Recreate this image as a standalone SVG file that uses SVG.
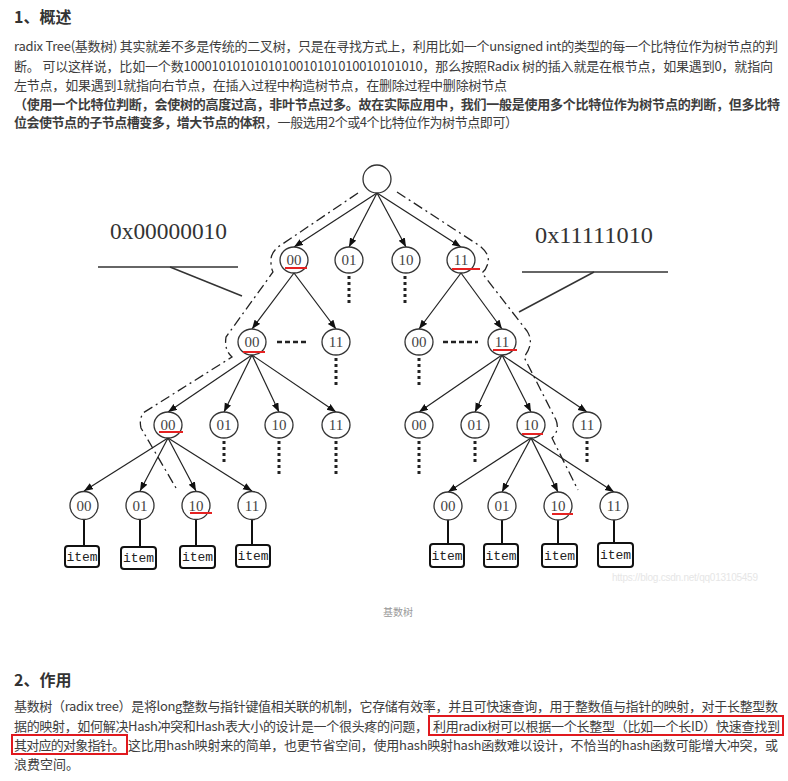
<svg xmlns="http://www.w3.org/2000/svg" width="788" height="781" viewBox="0 0 788 781">
<style>
.h{font-family:"Noto Sans CJK SC","Liberation Sans",sans-serif;font-size:16px;font-weight:bold;fill:#333}
.t{font-family:"Noto Sans CJK SC","Liberation Sans",sans-serif;font-size:13px;fill:#3d3d3d}
.b{font-weight:bold}
.n ellipse{fill:#fff;stroke:#333;stroke-width:1.3}
.n text{font-family:"Liberation Serif",serif;font-size:15px;fill:#444;text-anchor:middle}
.it rect{fill:#fff;stroke:#111;stroke-width:2}
.it text{font-family:"Liberation Mono",monospace;font-size:13px;fill:#222;text-anchor:middle}
.e{stroke:#222;stroke-width:1.2;fill:none}
.dot{stroke:#222;stroke-width:3;stroke-dasharray:3 3;fill:none}
.dsh{stroke:#222;stroke-width:2.5;stroke-dasharray:5 3;fill:none}
.stem{stroke:#111;stroke-width:2}
.red{stroke:#e52222;stroke-width:2}
.dd{stroke:#222;stroke-width:1.3;fill:none;stroke-dasharray:10 4 2 4}
.lbl{font-family:"Liberation Serif",serif;font-size:23px;fill:#333}
.box{fill:none;stroke:#e0191e;stroke-width:2}
</style>
<defs>
<marker id="ah" markerUnits="userSpaceOnUse" markerWidth="10" markerHeight="8" refX="9" refY="3.5" orient="auto">
<path d="M0,0 L9,3.5 L0,7 z" fill="#111"/>
</marker>
</defs>

<text class="h" x="14" y="23">1、概述</text>
<text class="t" x="14" y="51" textLength="764" lengthAdjust="spacing">radix Tree(基数树) 其实就差不多是传统的二叉树，只是在寻找方式上，利用比如一个unsigned int的类型的每一个比特位作为树节点的判</text>
<text class="t" x="14" y="71" textLength="759" lengthAdjust="spacing">断。 可以这样说，比如一个数1000101010101010010101010010101010，那么按照Radix 树的插入就是在根节点，如果遇到0，就指向</text>
<text class="t" x="14" y="90" textLength="493" lengthAdjust="spacing">左节点，如果遇到1就指向右节点，在插入过程中构造树节点，在删除过程中删除树节点</text>
<text class="t b" x="14" y="109" textLength="766" lengthAdjust="spacing">（使用一个比特位判断，会使树的高度过高，非叶节点过多。故在实际应用中，我们一般是使用多个比特位作为树节点的判断，但多比特</text>
<text class="t b" x="14" y="127" textLength="251" lengthAdjust="spacing">位会使节点的子节点槽变多，增大节点的体积</text>
<text class="t" x="265" y="127" textLength="253" lengthAdjust="spacing">，一般选用2个或4个比特位作为树节点即可）</text>

<g id="labels">
<text class="lbl" x="110" y="239" textLength="117" lengthAdjust="spacingAndGlyphs">0x00000010</text>
<line x1="98" y1="267" x2="238" y2="267" stroke="#333" stroke-width="1.5"/>
<line x1="170" y1="267" x2="242" y2="296" stroke="#333" stroke-width="1.5"/>
<text class="lbl" x="535" y="243" textLength="118" lengthAdjust="spacingAndGlyphs">0x11111010</text>
<line x1="522" y1="272" x2="668" y2="272" stroke="#333" stroke-width="1.5"/>
<line x1="594" y1="272" x2="519" y2="312" stroke="#333" stroke-width="1.5"/>
</g>

<g id="connectors">
<g marker-end="url(#ah)" class="e">
<line x1="377" y1="193" x2="294" y2="247"/>
<line x1="377" y1="193" x2="349" y2="247"/>
<line x1="377" y1="193" x2="406" y2="247"/>
<line x1="377" y1="193" x2="461" y2="247"/>
<line x1="294" y1="273" x2="252" y2="329"/>
<line x1="294" y1="273" x2="336" y2="329"/>
<line x1="461" y1="273" x2="419" y2="329"/>
<line x1="461" y1="273" x2="502" y2="329"/>
<line x1="252" y1="355" x2="168" y2="412"/>
<line x1="252" y1="355" x2="224" y2="412"/>
<line x1="252" y1="355" x2="279" y2="412"/>
<line x1="252" y1="355" x2="336" y2="412"/>
<line x1="502" y1="355" x2="419" y2="412"/>
<line x1="502" y1="355" x2="475" y2="412"/>
<line x1="502" y1="355" x2="531" y2="412"/>
<line x1="502" y1="355" x2="587" y2="412"/>
<line x1="168" y1="438" x2="84" y2="491"/>
<line x1="168" y1="438" x2="140" y2="491"/>
<line x1="168" y1="438" x2="196" y2="491"/>
<line x1="168" y1="438" x2="252" y2="491"/>
<line x1="531" y1="438" x2="448" y2="492"/>
<line x1="531" y1="438" x2="502" y2="492"/>
<line x1="531" y1="438" x2="558" y2="492"/>
<line x1="531" y1="438" x2="614" y2="492"/>
</g>
<line class="dot" x1="349" y1="276" x2="349" y2="306"/>
<line class="dot" x1="405" y1="276" x2="405" y2="306"/>
<line class="dot" x1="336" y1="358" x2="336" y2="388"/>
<line class="dot" x1="419" y1="358" x2="419" y2="388"/>
<line class="dsh" x1="277" y1="342" x2="309" y2="342"/>
<line class="dsh" x1="443" y1="342" x2="478" y2="342"/>
<line class="dot" x1="224" y1="441" x2="224" y2="462"/>
<line class="dot" x1="279" y1="441" x2="279" y2="476"/>
<line class="dot" x1="336" y1="441" x2="336" y2="477"/>
<line class="dot" x1="419" y1="441" x2="419" y2="476"/>
<line class="dot" x1="475" y1="441" x2="475" y2="462"/>
<line class="dot" x1="587" y1="441" x2="587" y2="462"/>
<line class="stem" x1="84" y1="520" x2="84" y2="546"/>
<line class="stem" x1="140" y1="520" x2="140" y2="547"/>
<line class="stem" x1="196" y1="520" x2="196" y2="546"/>
<line class="stem" x1="252" y1="520" x2="252" y2="545"/>
<line class="stem" x1="448" y1="520" x2="448" y2="544"/>
<line class="stem" x1="502" y1="520" x2="502" y2="544"/>
<line class="stem" x1="558" y1="520" x2="558" y2="543"/>
<line class="stem" x1="614" y1="520" x2="614" y2="543"/>
<path class="dd" d="M358,193 L281,245 Q270,252 271,262 Q271,268 273,272 L226,337 Q224,350 232,357 L143,413 Q139,420 141,428 L176,488"/>
<path class="dd" d="M397,192 L480,246 Q490,254 488,263 Q486,270 482,273 L527,331 Q535,343 524,357 L556,420 Q560,430 552,438 L578,490"/>
</g>

<g id="root" class="n"><ellipse cx="377" cy="179" rx="14" ry="14"/></g>
<g id="l1-00" class="n"><ellipse cx="294" cy="260" rx="14" ry="13"/><text x="294" y="265">00</text></g>
<g id="l1-01" class="n"><ellipse cx="349" cy="260" rx="14" ry="13"/><text x="349" y="265">01</text></g>
<g id="l1-10" class="n"><ellipse cx="406" cy="260" rx="14" ry="13"/><text x="406" y="265">10</text></g>
<g id="l1-11" class="n"><ellipse cx="461" cy="260" rx="14" ry="13"/><text x="461" y="265">11</text></g>
<g id="l2a-00" class="n"><ellipse cx="252" cy="342" rx="14" ry="13"/><text x="252" y="347">00</text></g>
<g id="l2a-11" class="n"><ellipse cx="336" cy="342" rx="14" ry="13"/><text x="336" y="347">11</text></g>
<g id="l2b-00" class="n"><ellipse cx="419" cy="342" rx="14" ry="13"/><text x="419" y="347">00</text></g>
<g id="l2b-11" class="n"><ellipse cx="502" cy="342" rx="14" ry="13"/><text x="502" y="347">11</text></g>
<g id="l3a-00" class="n"><ellipse cx="168" cy="425" rx="14" ry="13"/><text x="168" y="430">00</text></g>
<g id="l3a-01" class="n"><ellipse cx="224" cy="425" rx="14" ry="13"/><text x="224" y="430">01</text></g>
<g id="l3a-10" class="n"><ellipse cx="279" cy="425" rx="14" ry="13"/><text x="279" y="430">10</text></g>
<g id="l3a-11" class="n"><ellipse cx="336" cy="425" rx="14" ry="13"/><text x="336" y="430">11</text></g>
<g id="l3b-00" class="n"><ellipse cx="419" cy="425" rx="14" ry="13"/><text x="419" y="430">00</text></g>
<g id="l3b-01" class="n"><ellipse cx="475" cy="425" rx="14" ry="13"/><text x="475" y="430">01</text></g>
<g id="l3b-10" class="n"><ellipse cx="531" cy="425" rx="14" ry="13"/><text x="531" y="430">10</text></g>
<g id="l3b-11" class="n"><ellipse cx="587" cy="425" rx="14" ry="13"/><text x="587" y="430">11</text></g>
<g id="l4a-00" class="n"><ellipse cx="84" cy="505.5" rx="14" ry="14"/><text x="84" y="511">00</text></g>
<g id="l4a-01" class="n"><ellipse cx="140" cy="505.5" rx="14" ry="14"/><text x="140" y="511">01</text></g>
<g id="l4a-10" class="n"><ellipse cx="196" cy="505.5" rx="14" ry="14"/><text x="196" y="511">10</text></g>
<g id="l4a-11" class="n"><ellipse cx="252" cy="505.5" rx="14" ry="14"/><text x="252" y="511">11</text></g>
<g id="l4b-00" class="n"><ellipse cx="448" cy="506" rx="14" ry="14"/><text x="448" y="511">00</text></g>
<g id="l4b-01" class="n"><ellipse cx="502" cy="506" rx="14" ry="14"/><text x="502" y="511">01</text></g>
<g id="l4b-10" class="n"><ellipse cx="558" cy="506" rx="14" ry="14"/><text x="558" y="511">10</text></g>
<g id="l4b-11" class="n"><ellipse cx="614" cy="506" rx="14" ry="14"/><text x="614" y="511">11</text></g>

<g id="items">
<g id="item1" class="it"><rect x="65" y="546" width="34" height="21" rx="3"/><text x="82" y="561">item</text></g>
<g id="item2" class="it"><rect x="121" y="547" width="35" height="22" rx="3"/><text x="138.5" y="562">item</text></g>
<g id="item3" class="it"><rect x="180" y="546" width="35" height="22" rx="3"/><text x="197.5" y="561">item</text></g>
<g id="item4" class="it"><rect x="236" y="545" width="34" height="22" rx="3"/><text x="253" y="560">item</text></g>
<g id="item5" class="it"><rect x="430" y="544" width="34" height="23" rx="3"/><text x="447" y="560">item</text></g>
<g id="item6" class="it"><rect x="484" y="544" width="34" height="23" rx="3"/><text x="501" y="560">item</text></g>
<g id="item7" class="it"><rect x="542" y="544" width="35" height="23" rx="3"/><text x="559.5" y="560">item</text></g>
<g id="item8" class="it"><rect x="598" y="543" width="35" height="24" rx="3"/><text x="615.5" y="559">item</text></g>
</g>

<g id="marks">
<line class="red" x1="285" y1="268" x2="307" y2="268"/>
<line class="red" x1="452" y1="269" x2="480" y2="269"/>
<line class="red" x1="243" y1="352" x2="265" y2="352"/>
<line class="red" x1="493" y1="350" x2="517" y2="350"/>
<line class="red" x1="159" y1="432" x2="183" y2="432"/>
<line class="red" x1="522" y1="434" x2="543" y2="434"/>
<line class="red" x1="190" y1="513" x2="212" y2="513"/>
<line class="red" x1="552" y1="514" x2="573" y2="514"/>
</g>

<text x="612" y="581" font-family="Liberation Sans,sans-serif" font-size="10" fill="#e6e6e6" textLength="146" lengthAdjust="spacing">https://blog.csdn.net/qq013105459</text>
<text x="398" y="616" font-family="Noto Sans CJK SC,sans-serif" font-size="10" fill="#999" text-anchor="middle">基数树</text>

<text class="h" x="14" y="686">2、作用</text>
<text class="t" x="14" y="711" textLength="764" lengthAdjust="spacing">基数树（radix tree）是将long整数与指针键值相关联的机制，它存储有效率，并且可快速查询，用于整数值与指针的映射，对于长整型数</text>
<text class="t" x="14" y="731" textLength="414" lengthAdjust="spacing">据的映射，如何解决Hash冲突和Hash表大小的设计是一个很头疼的问题，</text>
<text class="t" x="433" y="731" textLength="347" lengthAdjust="spacing">利用radix树可以根据一个长整型（比如一个长ID）快速查找到</text>
<text class="t" x="14" y="750" textLength="111" lengthAdjust="spacing">其对应的对象指针。</text>
<text class="t" x="128" y="750" textLength="650" lengthAdjust="spacing">这比用hash映射来的简单，也更节省空间，使用hash映射hash函数难以设计，不恰当的hash函数可能增大冲突，或</text>
<text class="t" x="14" y="769">浪费空间。</text>
<rect class="box" x="429" y="716" width="354" height="19"/>
<rect class="box" x="12" y="735" width="115" height="19"/>
</svg>
